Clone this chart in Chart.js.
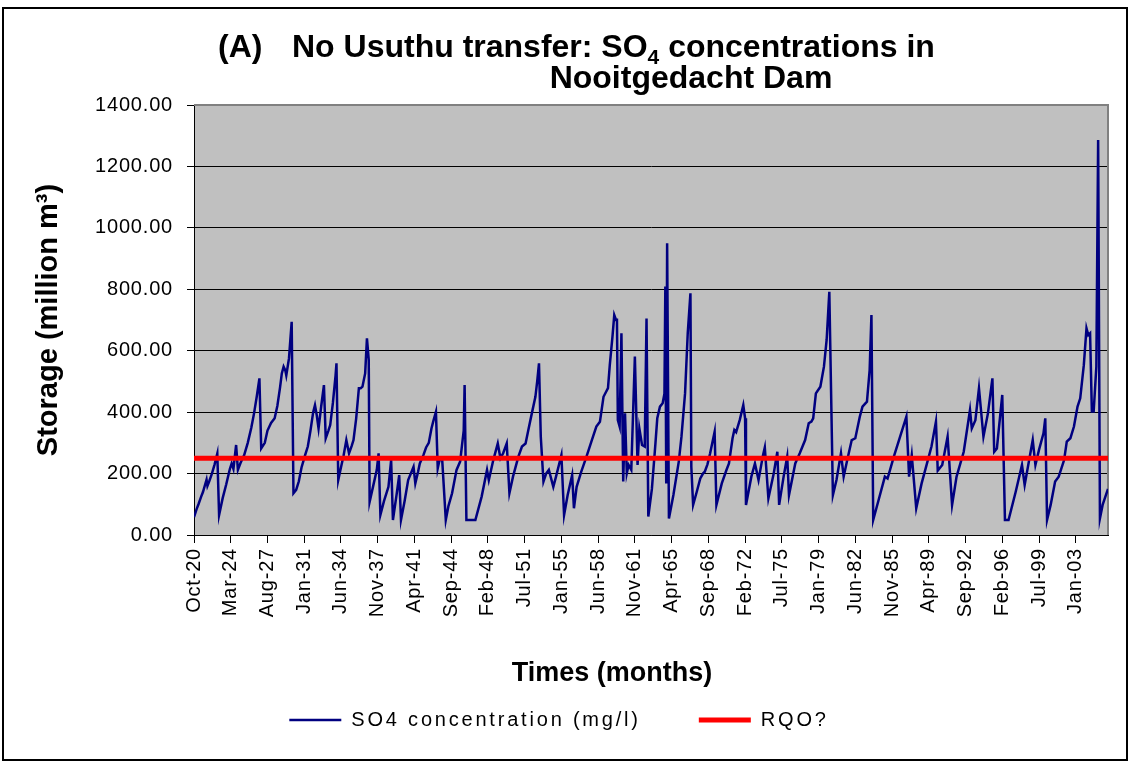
<!DOCTYPE html>
<html>
<head>
<meta charset="utf-8">
<script src="https://cdn.jsdelivr.net/npm/chart.js@4.4.1/dist/chart.umd.min.js"></script>
<style>
  html, body { margin: 0; padding: 0; background: #fff; }
  canvas { display: block; }
</style>
</head>
<body>
<canvas id="so4Chart" width="1130" height="763"></canvas>
<script>
// monthly simulation, month 0 = Oct 1920, last month = 1020
const lastMonth = 1020;
const tickEvery = 41;
const tickLabels = ["Oct-20", "Mar-24", "Aug-27", "Jan-31", "Jun-34", "Nov-37", "Apr-41", "Sep-44",
  "Feb-48", "Jul-51", "Jan-55", "Jun-58", "Nov-61", "Apr-65", "Sep-68", "Feb-72", "Jul-75",
  "Jan-79", "Jun-82", "Nov-85", "Apr-89", "Sep-92", "Feb-96", "Jul-99", "Jan-03"];

// turning points of the SO4 series (month index, mg/l)
const so4Months = [
  0, 3, 5, 8, 10, 14, 15, 17, 20, 23, 26, 28, 32, 36, 40, 42, 44, 47, 49, 52, 56, 60, 64, 67, 70, 73, 75,
  79, 82, 86, 90, 93, 96, 98, 100, 102, 103, 106, 109, 111, 114, 117, 120, 124, 127, 130, 133, 135, 137,
  139, 142, 145, 147, 150, 152, 155, 158, 159, 161, 164, 167, 170, 173, 176, 178, 181, 184, 186, 188, 191,
  193, 195, 196, 200, 204, 206, 208, 212, 217, 220, 222, 226, 229, 231, 235, 239, 242, 245, 247, 250, 252,
  256, 259, 262, 265, 267, 270, 272, 274, 277, 281, 284, 288, 293, 297, 299, 301, 302, 304, 314, 321, 327,
  329, 334, 339, 342, 345, 349, 352, 356, 362, 366, 370, 373, 377, 381, 383, 385, 387, 390, 393, 396, 401,
  404, 410, 413, 417, 422, 424, 427, 432, 438, 444, 449, 453, 457, 462, 464, 467, 469, 471, 472, 473, 475,
  477, 479, 481, 483, 485, 488, 492, 495, 497, 500, 503, 505, 507, 511, 515, 517, 520, 523, 525, 526, 527,
  528, 530, 535, 541, 544, 548, 551, 554, 555, 557, 561, 565, 568, 570, 573, 576, 581, 583, 589, 594, 597,
  601, 603, 605, 609, 613, 615, 616, 622, 626, 630, 635, 637, 641, 647, 651, 653, 658, 662, 664, 671, 676,
  682, 686, 689, 691, 694, 699, 703, 706, 709, 713, 717, 722, 725, 729, 734, 738, 743, 746, 751, 754, 756,
  758, 764, 771, 774, 781, 788, 795, 798, 801, 806, 812, 818, 823, 828, 830, 835, 841, 846, 851, 859, 866,
  868, 872, 876, 881, 886, 891, 893, 896, 902, 905, 909, 917, 924, 927, 932, 936, 939, 943, 948, 950, 952,
  956, 961, 965, 971, 974, 978, 982, 986, 989, 993, 996, 998, 1000, 1002, 1004, 1007, 1009, 1011, 1014, 1020
];
const so4Values = [
  58, 85, 100, 125, 140, 180, 160, 175, 200, 230, 265, 65, 120, 165, 215, 233, 215, 293, 212, 235, 260, 300, 350, 396, 450, 510, 282,
  300, 340, 365, 380, 420, 480, 526, 548, 535, 520, 575, 694, 136, 147, 175, 220, 260, 288, 340, 400, 423, 390,
  347, 420, 488, 315, 340, 358, 430, 520, 559, 179, 220, 260, 309, 266, 290, 309, 380, 478, 478, 483, 526,
  640, 570, 108, 160, 212, 266, 65, 110, 157, 244, 49, 130, 195, 49, 110, 179, 200, 222, 168, 205, 233,
  260, 285, 300, 347, 370, 401, 217, 244, 244, 49, 95, 136, 212, 239, 290, 340, 488, 49, 49, 125, 212,
  179, 244, 298, 250, 266, 298, 136, 190, 255, 288, 298, 340, 396, 450, 500, 559, 320, 174, 200, 212, 157,
  190, 260, 65, 130, 195, 87, 157, 205, 255, 309, 353, 369, 450, 478, 553, 646, 716, 700, 705, 374, 353,
  657, 174, 396, 201, 228, 212, 581, 228, 347, 293, 288, 705, 60, 150, 300, 380, 418, 429, 460, 809, 168,
  950, 54, 130, 239, 320, 461, 657, 787, 222, 98, 140, 184, 200, 206, 230, 266, 336, 98, 168, 210, 233,
  315, 342, 335, 374, 423, 380, 98, 190, 233, 179, 260, 285, 119, 201, 271, 98, 190, 255, 130, 233, 266,
  309, 364, 369, 380, 461, 483, 548, 635, 792, 130, 179, 266, 190, 244, 309, 315, 385, 418, 434, 537, 716,
  49, 114, 190, 184, 255, 320, 385, 190, 260, 87, 168, 233, 288, 369, 210, 228, 320, 98, 190, 271, 407,
  347, 374, 478, 320, 396, 510, 271, 282, 456, 49, 49, 141, 228, 163, 244, 309, 228, 277, 331, 380, 49,
  98, 174, 190, 244, 304, 315, 353, 418, 445, 553, 673, 651, 657, 402, 402, 548, 1286, 54, 98, 150
];
const rqoValue = 250;

const yMax = 1400;
const yStep = 200;

const fontFamily = '"Liberation Sans", Arial, sans-serif';
const legendSpacing = '2.8px';
const tickSpacing = '0.8px';

const so4Points = so4Months.map((m, i) => ({ x: m, y: so4Values[i] }));
const rqoPoints = [{ x: 0, y: rqoValue }, { x: lastMonth, y: rqoValue }];

// grey plot background, frame, outer border and the titles
const decorPlugin = {
  id: 'decor',
  beforeLayout(chart) {
    chart.ctx.letterSpacing = legendSpacing;
  },
  beforeDraw(chart) {
    const ctx = chart.ctx;
    const a = chart.chartArea;
    ctx.save();
    ctx.fillStyle = '#ffffff';
    ctx.fillRect(0, 0, chart.width, chart.height);
    ctx.fillStyle = '#c0c0c0';
    ctx.fillRect(a.left, a.top, a.right - a.left, a.bottom - a.top);
    ctx.restore();
    ctx.letterSpacing = legendSpacing;
  },
  beforeDatasetsDraw(chart) {
    const ctx = chart.ctx;
    const a = chart.chartArea;
    ctx.save();
    ctx.strokeStyle = '#808080';
    ctx.lineWidth = 2;
    ctx.beginPath();
    ctx.moveTo(a.left, a.top);
    ctx.lineTo(a.right, a.top);
    ctx.lineTo(a.right, a.bottom);
    ctx.stroke();
    ctx.restore();
  },
  afterDatasetsDraw(chart) {
    chart.ctx.letterSpacing = tickSpacing;
  },
  afterDraw(chart) {
    const ctx = chart.ctx;
    ctx.save();
    ctx.letterSpacing = '0px';
    ctx.fillStyle = '#000';

    // main title, with subscript 4 in SO4
    ctx.font = 'bold 32px ' + fontFamily;
    ctx.textBaseline = 'alphabetic';
    ctx.textAlign = 'left';
    ctx.fillText('(A)', 218, 57);
    let x = 292;
    const partA = 'No Usuthu transfer: SO';
    ctx.fillText(partA, x, 57);
    x += ctx.measureText(partA).width;
    ctx.font = 'bold 21px ' + fontFamily;
    ctx.fillText('4', x, 64);
    x += ctx.measureText('4').width;
    ctx.font = 'bold 32px ' + fontFamily;
    ctx.fillText(' concentrations in', x, 57);
    ctx.textAlign = 'center';
    ctx.fillText('Nooitgedacht Dam', 691, 88);

    // axis titles
    ctx.font = 'bold 27px ' + fontFamily;
    ctx.textBaseline = 'middle';
    ctx.fillText('Times (months)', 612, 674);
    ctx.font = 'bold 29px ' + fontFamily;
    ctx.translate(49, 320);
    ctx.rotate(-Math.PI / 2);
    ctx.fillText('Storage (million m\u00B3)', 0, 0);
    ctx.restore();

    // outer chart border
    ctx.save();
    ctx.strokeStyle = '#000';
    ctx.lineWidth = 2;
    ctx.strokeRect(3, 8, 1124, 752);
    ctx.restore();
  }
};

new Chart(document.getElementById('so4Chart'), {
  type: 'line',
  data: {
    datasets: [
      {
        label: 'SO4 concentration (mg/l)',
        data: so4Points,
        borderColor: '#000080',
        backgroundColor: '#000080',
        borderWidth: 2.5,
        pointRadius: 0,
        pointStyle: 'line',
        tension: 0,
        order: 1
      },
      {
        label: 'RQO?',
        data: rqoPoints,
        borderColor: '#ff0000',
        backgroundColor: '#ff0000',
        borderWidth: 5,
        pointRadius: 0,
        pointStyle: 'line',
        order: 0
      }
    ]
  },
  options: {
    responsive: false,
    devicePixelRatio: 1,
    animation: false,
    layout: { padding: { left: 10, right: 22, top: 105, bottom: 23 } },
    scales: {
      x: {
        type: 'linear',
        min: 0,
        max: lastMonth,
        afterFit: s => { s.height = 117; },
        afterBuildTicks: s => { s.ticks = tickLabels.map((_, i) => ({ value: i * tickEvery })); },
        ticks: {
          z: 1,
          autoSkip: false,
          maxRotation: 90,
          minRotation: 90,
          padding: 5,
          color: '#000',
          font: { family: fontFamily, size: 20 },
          callback: v => tickLabels[Math.round(v / tickEvery)]
        },
        grid: { drawOnChartArea: false, drawTicks: true, tickLength: 8, color: '#000', lineWidth: 1 },
        border: { display: true, color: '#000', width: 1 }
      },
      y: {
        min: 0,
        max: yMax,
        afterFit: s => { s.width = 184; },
        ticks: {
          z: 1,
          stepSize: yStep,
          padding: 14,
          color: '#000',
          font: { family: fontFamily, size: 20 },
          callback: v => v.toFixed(2)
        },
        grid: { color: '#000', lineWidth: 1, drawTicks: true, tickLength: 7 },
        border: { display: true, color: '#000', width: 1 }
      }
    },
    plugins: {
      title: { display: false },
      tooltip: { enabled: false },
      legend: {
        position: 'bottom',
        labels: {
          usePointStyle: true,
          pointStyleWidth: 52,
          boxHeight: 20,
          padding: 58,
          color: '#000',
          font: { family: fontFamily, size: 20 },
          sort: (a, b) => a.datasetIndex - b.datasetIndex
        }
      }
    }
  },
  plugins: [decorPlugin]
});
</script>
</body>
</html>
